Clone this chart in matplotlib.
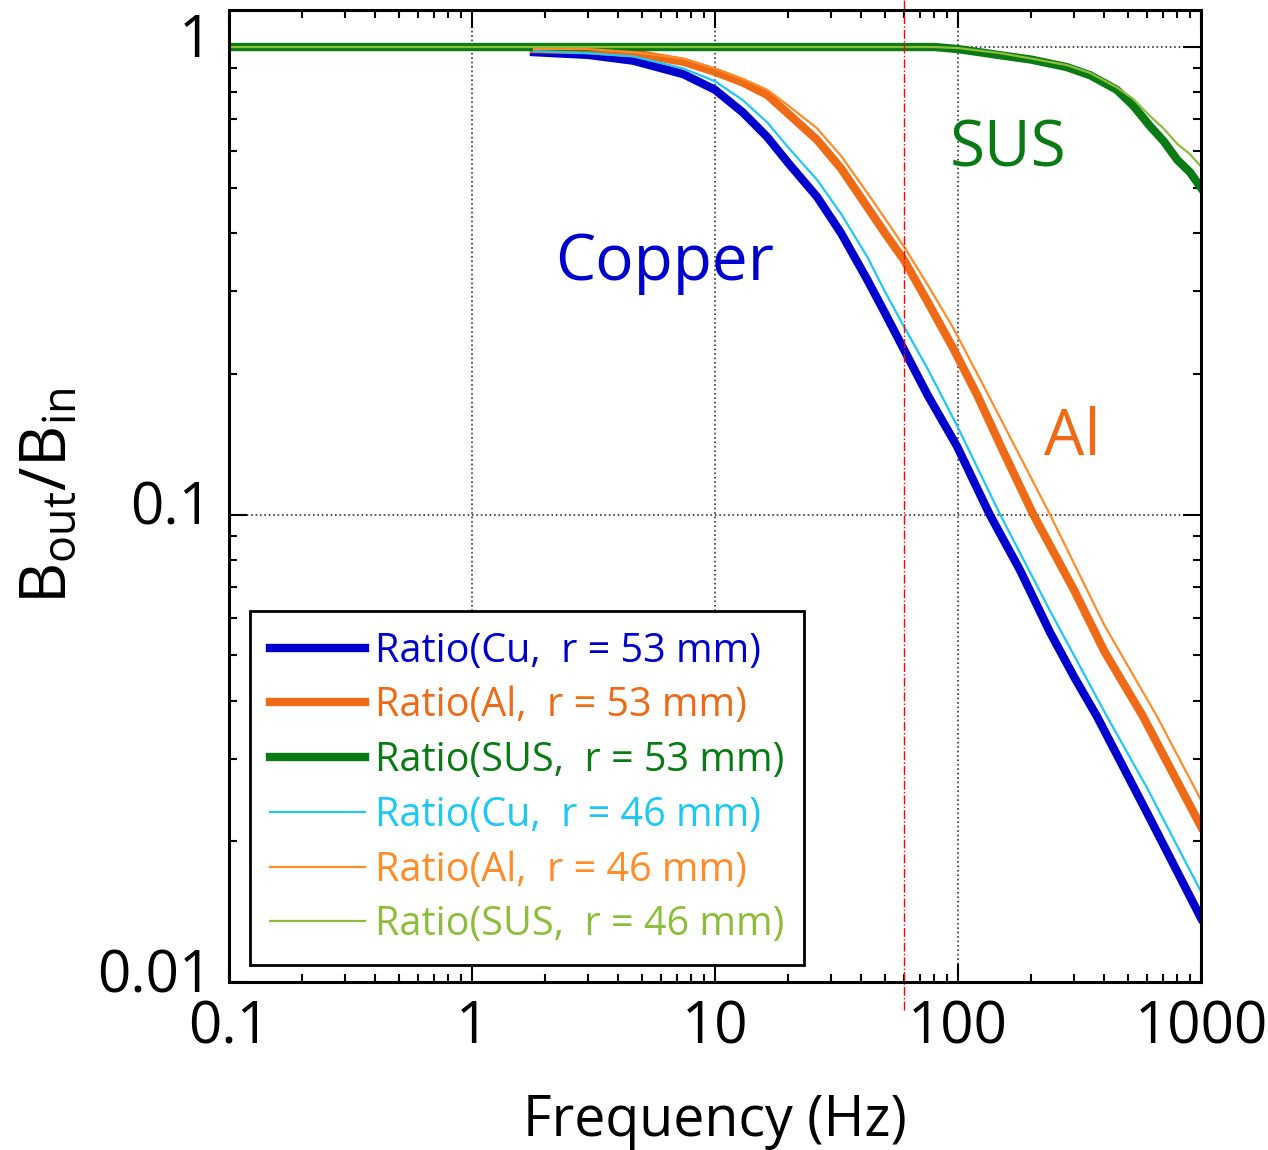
import matplotlib
matplotlib.use('Agg')

import matplotlib.pyplot as plt
import matplotlib.transforms as mtransforms
from matplotlib.ticker import LogLocator, NullFormatter, FixedLocator, FixedFormatter

plt.rcParams['font.family'] = ['Open Sans', 'DejaVu Sans']
plt.rcParams['mathtext.fontset'] = 'custom'
plt.rcParams['mathtext.rm'] = 'Open Sans'

# shielding ratio B_out/B_in vs frequency
f_cu53 = [1.8, 3, 4.6, 7.4, 10, 13, 16.4, 20, 26.3, 33, 42.3, 50, 60, 75, 99, 135, 180, 239, 300, 373, 600, 1000]
cu53 = [0.975, 0.962, 0.935, 0.875, 0.81, 0.725, 0.642, 0.565, 0.478, 0.40, 0.318, 0.27, 0.225, 0.18, 0.14,
        0.10, 0.076, 0.056, 0.045, 0.037, 0.023, 0.0137]

f_al53 = [1.8, 3, 4.6, 7.4, 10, 13, 16.4, 20, 26.3, 33, 42.3, 50, 60, 75, 95, 120, 150, 204, 300, 400, 577, 1000]
al53 = [0.99, 0.985, 0.97, 0.93, 0.885, 0.84, 0.79, 0.72, 0.633, 0.55, 0.455, 0.40, 0.35, 0.285, 0.228,
        0.18, 0.14, 0.10, 0.069, 0.051, 0.037, 0.0215]

f_sus53 = [0.1, 80, 100, 150, 200, 280, 350, 450, 525, 620, 700, 800, 900, 1000]
sus53 = [1.0, 1.0, 0.99, 0.96, 0.94, 0.906, 0.87, 0.81, 0.75, 0.675, 0.63, 0.573, 0.54, 0.50]

f_cu46 = [1.8, 3, 4.6, 7.4, 10, 13, 16.4, 20, 26.3, 33, 42.3, 50, 60, 75, 99, 149, 240, 410, 600, 1000]
cu46 = [0.98, 0.97, 0.955, 0.9, 0.845, 0.77, 0.69, 0.61, 0.52, 0.44, 0.356, 0.30, 0.252, 0.205, 0.155,
        0.10, 0.062, 0.037, 0.026, 0.0156]

f_al46 = [1.8, 3, 4.6, 7.4, 10, 13, 16.4, 20, 26.3, 33, 42.3, 50, 60, 75, 95, 120, 150, 239, 400, 659, 1000]
al46 = [0.99, 0.99, 0.975, 0.945, 0.9, 0.855, 0.81, 0.75, 0.67, 0.585, 0.488, 0.43, 0.374, 0.31, 0.252,
        0.2, 0.16, 0.10, 0.058, 0.037, 0.0245]

f_sus46 = [0.1, 80, 100, 150, 200, 280, 350, 450, 525, 620, 700, 800, 900, 1000]
sus46 = [1.0, 1.0, 0.995, 0.97, 0.945, 0.915, 0.88, 0.82, 0.775, 0.71, 0.67, 0.62, 0.59, 0.555]

series = [
    (f_cu53, cu53, '#0000CC', 6.0, 'Ratio(Cu,  r = 53 mm)'),
    (f_al53, al53, '#EE6A16', 6.0, 'Ratio(Al,  r = 53 mm)'),
    (f_sus53, sus53, '#0A7A14', 6.0, 'Ratio(SUS,  r = 53 mm)'),
    (f_cu46, cu46, '#1EC8F5', 1.6, 'Ratio(Cu,  r = 46 mm)'),
    (f_al46, al46, '#FF8C28', 1.6, 'Ratio(Al,  r = 46 mm)'),
    (f_sus46, sus46, '#8CBE3C', 1.6, 'Ratio(SUS,  r = 46 mm)'),
]

fig = plt.figure(figsize=(12.68, 11.5), dpi=100)
ax = fig.add_axes([0.1806, 0.146, 0.7666, 0.8453])

for f, r, c, lw, lab in series:
    ax.plot(f, r, color=c, lw=lw, label=lab, solid_joinstyle='round')

ax.set_xscale('log')
ax.set_yscale('log')
ax.set_xlim(0.1, 1000)
ax.set_ylim(0.01, 1.2)

ax.xaxis.set_major_locator(FixedLocator([0.1, 1, 10, 100, 1000]))
ax.xaxis.set_major_formatter(FixedFormatter(['0.1', '1', '10', '100', '1000']))
ax.yaxis.set_major_locator(FixedLocator([0.01, 0.1, 1]))
ax.yaxis.set_major_formatter(FixedFormatter(['0.01', '0.1', '1']))
ax.xaxis.set_minor_locator(LogLocator(base=10, subs=range(2, 10)))
ax.yaxis.set_minor_locator(LogLocator(base=10, subs=range(2, 10)))
ax.xaxis.set_minor_formatter(NullFormatter())
ax.yaxis.set_minor_formatter(NullFormatter())

ax.tick_params(which='both', direction='in', top=True, right=True, width=1.5, color='black')
ax.tick_params(which='major', length=13, labelsize=42, pad=12)
ax.tick_params(which='minor', length=6)
for s in ax.spines.values():
    s.set_linewidth(2.2)

# y tick labels sit a little above their ticks in the original
shift = mtransforms.ScaledTranslation(0, 12 / 100, fig.dpi_scale_trans)
for lbl in ax.get_yticklabels():
    lbl.set_transform(lbl.get_transform() + shift)

ax.grid(which='major', linestyle=':', color='#333333', lw=1.2)

# 60 Hz marker
ax.axvline(60, ymin=-0.029, ymax=1.01, color='red', lw=1.0, linestyle='-.', clip_on=False)

ax.text(6.2, 0.318, 'Copper', color='#0000CC', fontsize=46, ha='center', va='baseline')
ax.text(160, 0.554, 'SUS', color='#0A7A14', fontsize=46, ha='center', va='baseline')
ax.text(294, 0.134, 'Al', color='#EE6A16', fontsize=46, ha='center', va='baseline')

ax.set_xlabel('Frequency (Hz)', fontsize=40, labelpad=26)
ax.set_ylabel(r'$\mathregular{B_{out}/B_{in}}$', fontsize=46, labelpad=12)

leg = ax.legend(loc='lower left', bbox_to_anchor=(0.0216, 0.0175), borderaxespad=0,
                fontsize=28.5, labelcolor='linecolor', handlelength=2.4, handletextpad=0.25,
                labelspacing=0.36, borderpad=0.5, fancybox=False, framealpha=1,
                edgecolor='black')
leg.get_frame().set_linewidth(2)

fig.savefig('out.png', dpi=100)
plt.close(fig)
